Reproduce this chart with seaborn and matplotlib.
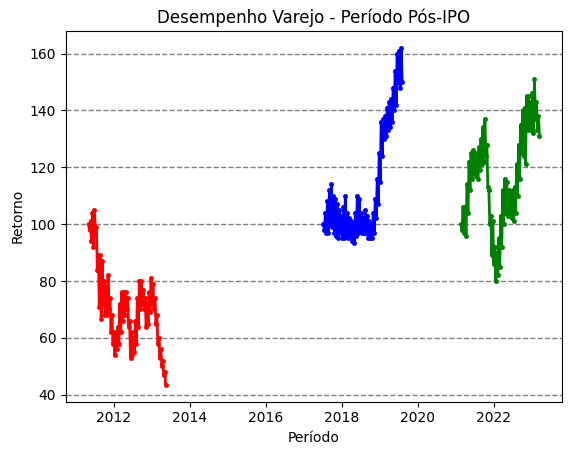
import pandas as pd
import matplotlib
matplotlib.use("Agg")
import matplotlib.pyplot as plt
import seaborn as sns

# series (alternating high / low of each ~10-day slice)
red_start, red_end = "2011-05-01", "2013-05-12"
red_values = [100, 98, 101, 94, 104, 92, 105, 97, 99, 84, 89, 71, 89, 66.5, 87, 72,
              80, 68, 78, 68, 82, 70, 74, 62, 68, 58, 62, 54, 62, 56, 64, 58,
              72, 62, 76, 66, 76, 68, 76, 70, 74, 64, 66, 53, 62, 54, 60, 55,
              66, 58, 74, 64, 80, 70, 80, 72, 77, 70, 74, 64, 72, 65, 76, 69,
              81, 72, 79, 70, 74, 65, 68, 58, 60, 53, 56, 50, 52, 47, 48, 43.5]

blue_start, blue_end = "2017-07-08", "2019-08-04"
blue_values = [100, 98, 104, 97, 108, 97, 112, 100, 114, 99, 110, 97, 109, 96, 107, 95,
               105, 97, 103, 95, 106, 95, 110, 96, 104, 95, 102, 96, 101, 94, 100, 93.5,
               104, 96, 110, 97, 109, 98, 104, 97, 102, 97, 105, 97, 103, 95, 101, 95,
               100, 95, 104, 97, 109, 102, 116, 107, 125, 115, 136, 124, 137, 130, 138, 131,
               141, 133, 143, 134, 144, 136, 148, 140, 154, 142, 160, 150, 161, 148, 162, 150]

green_start, green_end = "2021-02-21", "2023-03-17"
green_values = [100, 98, 106, 97, 106, 96, 114, 104, 122, 112, 125, 116, 126, 118, 125, 117,
                124, 116, 127, 119, 130, 121, 134, 122, 137, 124, 128, 113, 112, 100, 103, 89,
                101, 86, 92, 80, 90, 82, 95, 85, 103, 92, 112, 100, 116, 104, 115, 103,
                112, 104, 111, 102, 112, 101, 113, 104, 121, 110, 128, 116, 135, 125, 140, 124,
                141, 121, 145, 133, 145, 134, 143, 133, 146, 132, 151, 137, 143, 133, 138, 131]

series = [
    (red_start, red_end, red_values, "red"),
    (blue_start, blue_end, blue_values, "blue"),
    (green_start, green_end, green_values, "green"),
]

fig = plt.figure(figsize=(5.71, 4.54), dpi=100)
ax = fig.add_axes([0.1156, 0.1152, 0.8686, 0.8165])

for start, end, values, color in series:
    df = pd.DataFrame({
        "Data": pd.date_range(start, end, periods=len(values)),
        "Retorno": values,
    })
    sns.lineplot(data=df, x="Data", y="Retorno", ax=ax, color=color,
                 linewidth=2, marker="o", markersize=3,
                 markeredgecolor=color, markeredgewidth=0.5)

ax.grid(axis="y", linestyle="--", color="gray", linewidth=1)
ax.set_title("Desempenho Varejo - Período Pós-IPO")
ax.set_xlabel("Período")
ax.set_ylabel("Retorno")

fig.savefig("out.png", dpi=100)
